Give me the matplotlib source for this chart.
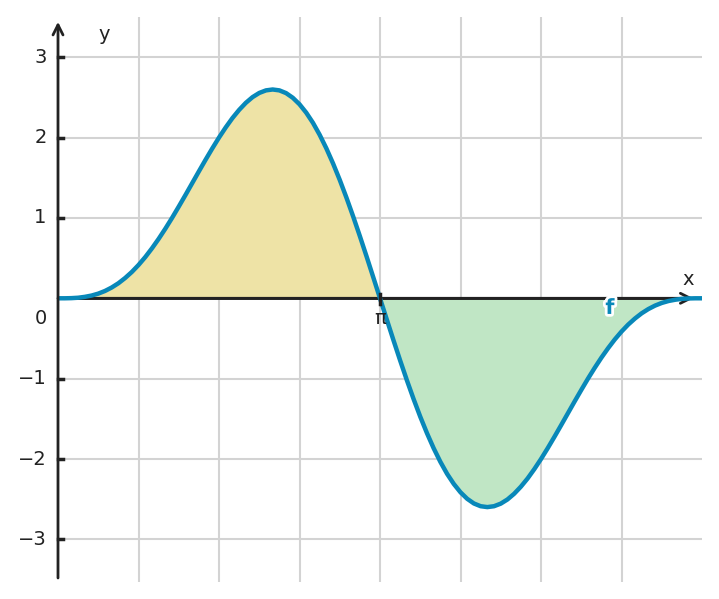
import numpy as np
import matplotlib
matplotlib.use("Agg")
import matplotlib.pyplot as plt
import matplotlib.patheffects as pe

# x positions in units of pi/48 from 0 to 2*pi
x_steps = list(range(97))
half = [0.000, 0.000, 0.002, 0.007, 0.018, 0.034, 0.058, 0.091, 0.134, 0.187,
        0.252, 0.327, 0.414, 0.512, 0.621, 0.739, 0.866, 1.000, 1.141, 1.285,
        1.432, 1.579, 1.724, 1.865, 2.000, 2.126, 2.242, 2.344, 2.432, 2.503,
        2.555, 2.587, 2.598, 2.587, 2.553, 2.495, 2.414, 2.310, 2.184, 2.035,
        1.866, 1.678, 1.473, 1.252, 1.018, 0.773, 0.520, 0.261, 0.000]
f_values = half + [-v for v in half[-2::-1]]
y_ticks = [-3, -2, -1, 1, 2, 3]
y_tick_labels = ["\u22123", "\u22122", "\u22121", "1", "2", "3"]

x = np.array(x_steps) * np.pi / 48
y = np.array(f_values)

W, H = 719, 599
fig = plt.figure(figsize=(W / 100, H / 100), dpi=100)
ax = fig.add_axes([58 / W, 17 / H, (702 - 58) / W, (582 - 17) / H])
ax.set_xlim(0, 2 * np.pi)
ax.set_ylim(-3.53, 3.50)
for s in ax.spines.values():
    s.set_visible(False)
ax.set_xticks([])
ax.set_yticks([])

grid_c = "#d3d3d3"
for k in range(1, 8):
    ax.axvline(k * np.pi / 4, color=grid_c, lw=1.5, zorder=0)
for t in y_ticks:
    ax.axhline(t, color=grid_c, lw=1.5, zorder=0)

ax.fill_between(x, y, 0, where=y >= 0, color="#eee3a6", zorder=1, interpolate=True)
ax.fill_between(x, y, 0, where=y <= 0, color="#c0e6c5", zorder=1, interpolate=True)

axc = "#222222"
# x axis
ax.annotate("", xy=(6.2, 0), xytext=(0, 0),
            arrowprops=dict(arrowstyle="->", color=axc, lw=2, mutation_scale=18,
                            shrinkA=0, shrinkB=0), zorder=2)
ax.plot([0, 2 * np.pi], [0, 0], color=axc, lw=2, zorder=2)
# y axis
ax.annotate("", xy=(0, 3.44), xytext=(0, -3.48),
            arrowprops=dict(arrowstyle="->", color=axc, lw=2, mutation_scale=18,
                            shrinkA=0, shrinkB=0), zorder=4, annotation_clip=False)

ax.plot(x, y, color="#0888b9", lw=3.2, zorder=3, solid_capstyle="butt",
        solid_joinstyle="round", clip_on=False)

# y ticks
for t, lab in zip(y_ticks, y_tick_labels):
    ax.plot([0, 0.05], [t, t], color=axc, lw=2.5, zorder=4, clip_on=False)
    ax.text(-0.11, t, lab, ha="right", va="center", fontsize=14, color=axc)
ax.text(-0.17, -0.25, "0", ha="center", va="center", fontsize=14, color=axc)
ax.plot([np.pi, np.pi], [-0.07, 0.05], color=axc, lw=2.5, zorder=4)
ax.text(np.pi, -0.25, "\u03c0", ha="center", va="center", fontsize=14, color=axc)
ax.text(0.45, 3.28, "y", ha="center", va="center", fontsize=14, color=axc)
ax.text(6.15, 0.23, "x", ha="center", va="center", fontsize=14, color=axc)
ax.text(5.385, -0.12, "f", ha="center", va="center", fontsize=15, color="#0888b9",
        fontweight="bold", zorder=5,
        path_effects=[pe.withStroke(linewidth=4, foreground="white")])

fig.savefig("out.png", dpi=100)
